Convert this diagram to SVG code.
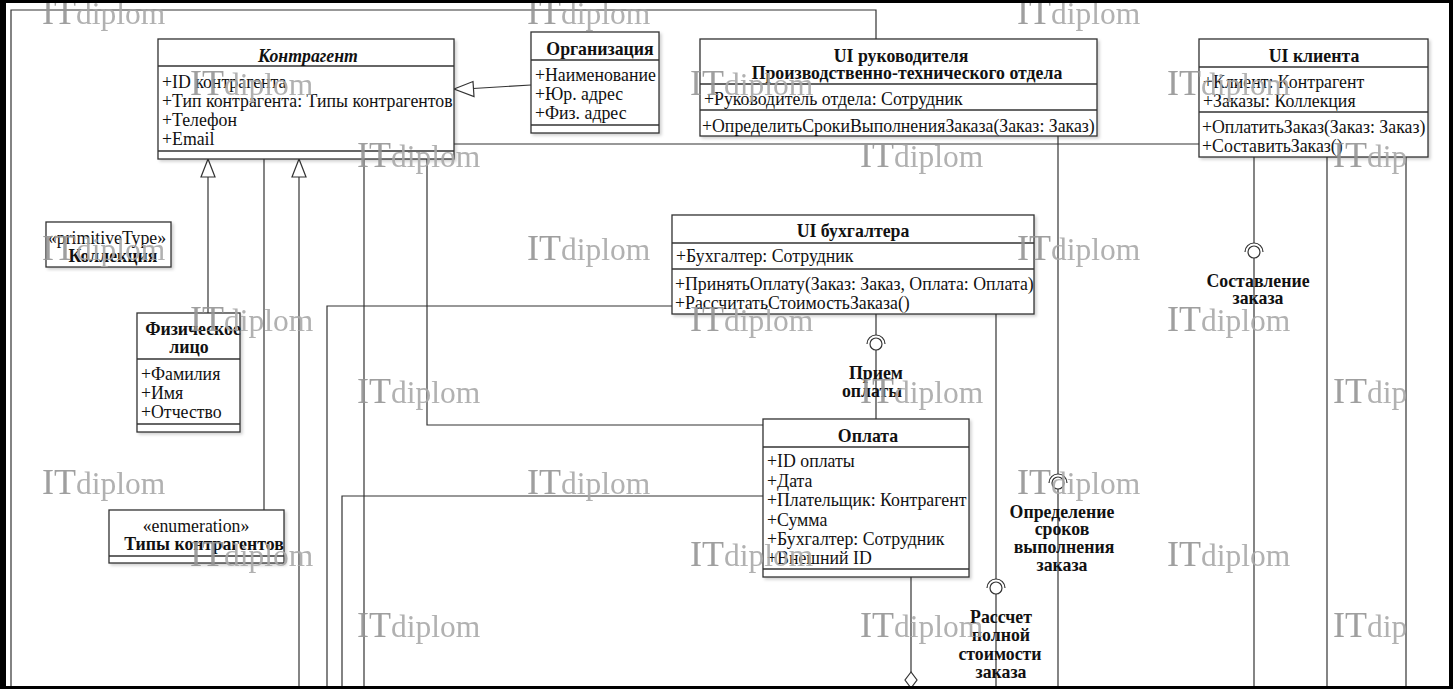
<svg xmlns="http://www.w3.org/2000/svg" width="1453" height="689" viewBox="0 0 1453 689">
<style>
.bx{fill:#fff;stroke:#333;stroke-width:1.3}
.sp{stroke:#333;stroke-width:1.3}
.t{font-family:"Liberation Serif","Times New Roman",serif;font-size:17.8px;fill:#111}
.b{font-weight:bold}
.i{font-style:italic}
.c{text-anchor:middle}
.ln{stroke:#333;stroke-width:1.2;fill:none}
.hd{fill:#fff;stroke:#333;stroke-width:1.2}
.wm{font-family:"Liberation Serif","Times New Roman",serif}
.wi{font-size:36px;fill:#959595}
.wd{font-size:31.5px;fill:#a9a9a9}
</style>
<defs>
<filter id="sh" x="-5%" y="-5%" width="115%" height="115%">
<feDropShadow dx="2" dy="2" stdDeviation="1.5" flood-color="#000" flood-opacity="0.18"/>
</filter>
</defs>
<rect x="0" y="0" width="1453" height="689" fill="#fff"/>

<g id="connectors">
<path class="ln" d="M11,689 V10 H876 V39"/>
<line class="ln" x1="531" y1="85" x2="473" y2="88.5"/>
<polygon class="hd" points="454,89 473,81.5 474,96.5"/>
<line class="ln" x1="208" y1="313" x2="208" y2="177"/>
<polygon class="hd" points="208,159 201,177 215,177"/>
<line class="ln" x1="299" y1="689" x2="299" y2="177"/>
<polygon class="hd" points="299,159 292,177 306,177"/>
<line class="ln" x1="264" y1="159" x2="264" y2="510"/>
<line class="ln" x1="364" y1="159" x2="364" y2="689"/>
<path class="ln" d="M427,159 V425 H763"/>
<line class="ln" x1="454" y1="144" x2="1199" y2="144"/>
<path class="ln" d="M672,306 H327 V689"/>
<path class="ln" d="M763,496 H342 V689"/>
<line class="ln" x1="1327" y1="157" x2="1327" y2="689"/>
<line class="ln" x1="1406" y1="157" x2="1406" y2="689"/>
<line class="ln" x1="911" y1="577" x2="911" y2="672"/>
<polygon class="hd" points="911,672 905,680 911,688 917,680"/>
<line class="ln" x1="876" y1="314" x2="876" y2="335"/>
<path class="ln" d="M867,344 A9,9 0 0 1 885,344"/>
<circle class="hd" cx="876" cy="344" r="6"/>
<line class="ln" x1="876" y1="350" x2="876" y2="419"/>
<line class="ln" x1="996" y1="314" x2="996" y2="579"/>
<path class="ln" d="M987,588 A9,9 0 0 1 1005,588"/>
<circle class="hd" cx="996" cy="588" r="6"/>
<line class="ln" x1="996" y1="594" x2="996" y2="689"/>
<line class="ln" x1="1058" y1="136" x2="1058" y2="474"/>
<path class="ln" d="M1049,483 A9,9 0 0 1 1067,483"/>
<circle class="hd" cx="1058" cy="483" r="6"/>
<line class="ln" x1="1058" y1="489" x2="1058" y2="689"/>
<line class="ln" x1="1254" y1="157" x2="1254" y2="243"/>
<path class="ln" d="M1245,252 A9,9 0 0 1 1263,252"/>
<circle class="hd" cx="1254" cy="252" r="6"/>
<line class="ln" x1="1254" y1="258" x2="1254" y2="689"/>
</g>

<g id="labels" class="t b c">
<text x="876" y="379">Прием</text>
<text x="872" y="397">оплаты</text>
<text x="1001" y="623">Рассчет</text>
<text x="1001" y="641">полной</text>
<text x="1000" y="660">стоимости</text>
<text x="1001" y="678">заказа</text>
<text x="1062" y="518">Определение</text>
<text x="1062" y="535">сроков</text>
<text x="1064" y="553">выполнения</text>
<text x="1062" y="571">заказа</text>
<text x="1258" y="287">Составление</text>
<text x="1258" y="304">заказа</text>
</g>

<g id="kontragent">
<rect class="bx" x="158" y="39" width="296" height="120" filter="url(#sh)"/>
<line class="sp" x1="158" y1="66" x2="454" y2="66"/>
<line class="sp" x1="158" y1="151" x2="454" y2="151"/>
<text class="t b i c" x="308" y="62">Контрагент</text>
<text class="t" x="162" y="88">+ID контрагента</text>
<text class="t" x="162" y="107">+Тип контрагента: Типы контрагентов</text>
<text class="t" x="162" y="126">+Телефон</text>
<text class="t" x="162" y="145">+Email</text>
</g>

<g id="organizaciya">
<rect class="bx" x="531" y="32" width="128" height="101" filter="url(#sh)"/>
<line class="sp" x1="531" y1="60" x2="659" y2="60"/>
<line class="sp" x1="531" y1="125" x2="659" y2="125"/>
<text class="t b c" x="600" y="55">Организация</text>
<text class="t" x="535" y="81">+Наименование</text>
<text class="t" x="535" y="100">+Юр. адрес</text>
<text class="t" x="535" y="119">+Физ. адрес</text>
</g>

<g id="ui-rukovoditelya">
<rect class="bx" x="700" y="39" width="397" height="97" filter="url(#sh)"/>
<line class="sp" x1="700" y1="84" x2="1097" y2="84"/>
<line class="sp" x1="700" y1="110" x2="1097" y2="110"/>
<text class="t b c" x="901" y="62">UI руководителя</text>
<text class="t b c" x="907" y="79">Производственно-технического отдела</text>
<text class="t" x="704" y="105">+Руководитель отдела: Сотрудник</text>
<text class="t" x="702" y="132">+ОпределитьСрокиВыполненияЗаказа(Заказ: Заказ)</text>
</g>

<g id="ui-klienta">
<rect class="bx" x="1199" y="39" width="229" height="118" filter="url(#sh)"/>
<line class="sp" x1="1199" y1="67" x2="1428" y2="67"/>
<line class="sp" x1="1199" y1="112" x2="1428" y2="112"/>
<text class="t b c" x="1314" y="62">UI клиента</text>
<text class="t" x="1203" y="88">+Клиент: Контрагент</text>
<text class="t" x="1203" y="107">+Заказы: Коллекция</text>
<text class="t" x="1202" y="133">+ОплатитьЗаказ(Заказ: Заказ)</text>
<text class="t" x="1202" y="152">+СоставитьЗаказ()</text>
</g>

<g id="ui-buhgaltera">
<rect class="bx" x="672" y="215" width="362" height="99" filter="url(#sh)"/>
<line class="sp" x1="672" y1="243" x2="1034" y2="243"/>
<line class="sp" x1="672" y1="269" x2="1034" y2="269"/>
<text class="t b c" x="853" y="237">UI бухгалтера</text>
<text class="t" x="676" y="262">+Бухгалтер: Сотрудник</text>
<text class="t" x="675" y="290">+ПринятьОплату(Заказ: Заказ, Оплата: Оплата)</text>
<text class="t" x="675" y="309">+РассчитатьСтоимостьЗаказа()</text>
</g>

<g id="oplata">
<rect class="bx" x="763" y="419" width="206" height="158" filter="url(#sh)"/>
<line class="sp" x1="763" y1="447" x2="969" y2="447"/>
<line class="sp" x1="763" y1="569" x2="969" y2="569"/>
<text class="t b c" x="868" y="442">Оплата</text>
<text class="t" x="767" y="467">+ID оплаты</text>
<text class="t" x="767" y="487">+Дата</text>
<text class="t" x="767" y="506">+Плательщик: Контрагент</text>
<text class="t" x="767" y="526">+Сумма</text>
<text class="t" x="767" y="545">+Бухгалтер: Сотрудник</text>
<text class="t" x="767" y="564">+Внешний ID</text>
</g>

<g id="fizicheskoe-lico">
<rect class="bx" x="137" y="313" width="103" height="119" filter="url(#sh)"/>
<line class="sp" x1="137" y1="359" x2="240" y2="359"/>
<line class="sp" x1="137" y1="424" x2="240" y2="424"/>
<text class="t b c" x="193" y="335">Физическое</text>
<text class="t b c" x="189" y="353">лицо</text>
<text class="t" x="141" y="380">+Фамилия</text>
<text class="t" x="141" y="399">+Имя</text>
<text class="t" x="141" y="418">+Отчество</text>
</g>

<g id="kollekciya">
<rect class="bx" x="46" y="222" width="125" height="45" filter="url(#sh)"/>
<text class="t c" x="107" y="244">«primitiveType»</text>
<text class="t b c" x="113" y="262">Коллекция</text>
</g>

<g id="tipy-kontragentov">
<rect class="bx" x="109" y="510" width="175" height="53" filter="url(#sh)"/>
<line class="sp" x1="109" y1="556" x2="284" y2="556"/>
<text class="t c" x="196" y="532">«enumeration»</text>
<text class="t b c" x="204" y="550">Типы контрагентов</text>
</g>

<g id="watermarks" class="wm" opacity="0.9">
<text x="42" y="24"><tspan class="wi">IT</tspan><tspan class="wd">diplom</tspan></text>
<text x="527" y="24"><tspan class="wi">IT</tspan><tspan class="wd">diplom</tspan></text>
<text x="1017" y="24"><tspan class="wi">IT</tspan><tspan class="wd">diplom</tspan></text>
<text x="190" y="95"><tspan class="wi">IT</tspan><tspan class="wd">diplom</tspan></text>
<text x="690" y="95"><tspan class="wi">IT</tspan><tspan class="wd">diplom</tspan></text>
<text x="1167" y="95"><tspan class="wi">IT</tspan><tspan class="wd">diplom</tspan></text>
<text x="357" y="167"><tspan class="wi">IT</tspan><tspan class="wd">diplom</tspan></text>
<text x="860" y="167"><tspan class="wi">IT</tspan><tspan class="wd">diplom</tspan></text>
<text x="1333" y="167"><tspan class="wi">IT</tspan><tspan class="wd">dip</tspan></text>
<text x="42" y="260"><tspan class="wi">IT</tspan><tspan class="wd">diplom</tspan></text>
<text x="527" y="260"><tspan class="wi">IT</tspan><tspan class="wd">diplom</tspan></text>
<text x="1017" y="260"><tspan class="wi">IT</tspan><tspan class="wd">diplom</tspan></text>
<text x="190" y="331"><tspan class="wi">IT</tspan><tspan class="wd">diplom</tspan></text>
<text x="690" y="331"><tspan class="wi">IT</tspan><tspan class="wd">diplom</tspan></text>
<text x="1167" y="331"><tspan class="wi">IT</tspan><tspan class="wd">diplom</tspan></text>
<text x="357" y="403"><tspan class="wi">IT</tspan><tspan class="wd">diplom</tspan></text>
<text x="860" y="403"><tspan class="wi">IT</tspan><tspan class="wd">diplom</tspan></text>
<text x="1333" y="403"><tspan class="wi">IT</tspan><tspan class="wd">dip</tspan></text>
<text x="42" y="494"><tspan class="wi">IT</tspan><tspan class="wd">diplom</tspan></text>
<text x="527" y="494"><tspan class="wi">IT</tspan><tspan class="wd">diplom</tspan></text>
<text x="1017" y="494"><tspan class="wi">IT</tspan><tspan class="wd">diplom</tspan></text>
<text x="190" y="566"><tspan class="wi">IT</tspan><tspan class="wd">diplom</tspan></text>
<text x="690" y="566"><tspan class="wi">IT</tspan><tspan class="wd">diplom</tspan></text>
<text x="1167" y="566"><tspan class="wi">IT</tspan><tspan class="wd">diplom</tspan></text>
<text x="357" y="637"><tspan class="wi">IT</tspan><tspan class="wd">diplom</tspan></text>
<text x="860" y="637"><tspan class="wi">IT</tspan><tspan class="wd">diplom</tspan></text>
<text x="1333" y="637"><tspan class="wi">IT</tspan><tspan class="wd">dip</tspan></text>
</g>

<g id="frame" fill="#000">
<rect x="0" y="0" width="1453" height="3"/>
<rect x="0" y="0" width="6" height="689"/>
<rect x="1449" y="0" width="4" height="689"/>
<rect x="0" y="686" width="1453" height="3"/>
</g>
</svg>
